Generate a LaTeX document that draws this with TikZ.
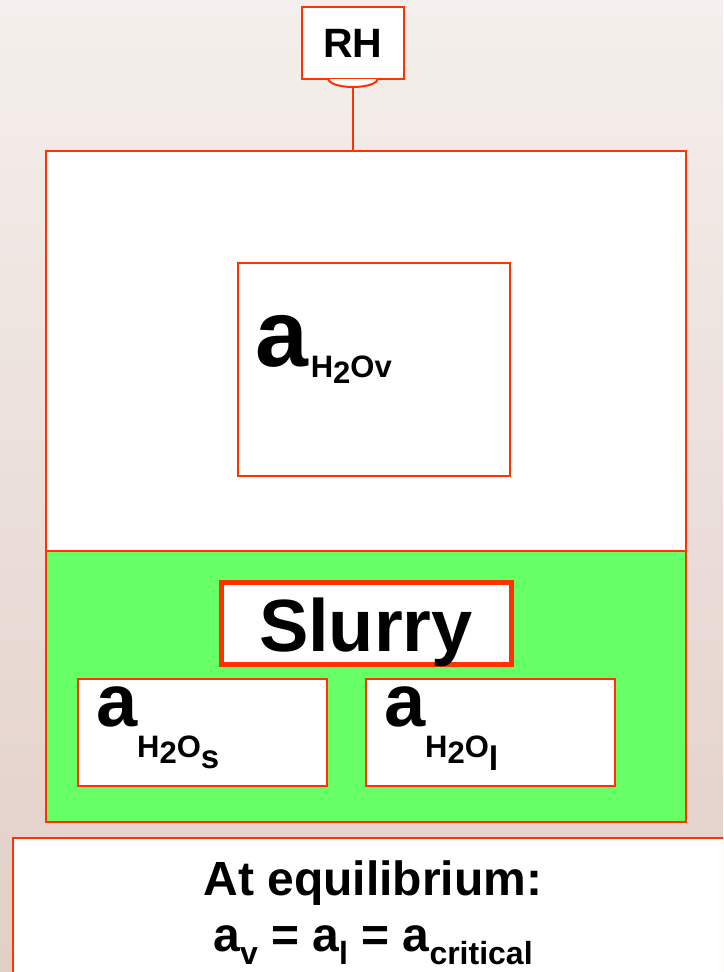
\documentclass[tikz,border=0pt]{standalone}
\usepackage{fontspec}
\setmainfont{Liberation Sans}
\definecolor{edge}{RGB}{255,51,0}
\definecolor{slurrygreen}{RGB}{102,255,102}
\definecolor{bgtop}{RGB}{244,239,236}
\definecolor{bgbot}{RGB}{226,207,199}
\newcommand\myfs[1]{\fontsize{#1}{#1}\selectfont\bfseries}
\begin{document}
\begin{tikzpicture}[x=1pt,y=-1pt,
  box/.style={draw=edge,line width=2pt,fill=white,rectangle,inner sep=0pt,outer sep=0pt},
  lbl/.style={inner sep=0pt,outer sep=0pt,text=black}]
\useasboundingbox (0,0) rectangle (723,972);
\clip (0,0) rectangle (723,972);
\shade[top color=bgtop,bottom color=bgbot] (0,0) rectangle (723,972);

% main container
\node[box,fill=slurrygreen,minimum width=640pt,minimum height=271pt] (slurzone) at (366,686.5) {};
\node[box,minimum width=640pt,minimum height=400pt] (vapzone) at (366,351) {};

% RH sensor
\node[box,minimum width=102pt,minimum height=72pt] (rh) at (353,43) {\myfs{41}RH};
\draw[edge,line width=2pt,fill=white] ([xshift=-24.5pt]rh.south) arc[start angle=180,end angle=360,x radius=24.5pt,y radius=8pt];
\coordinate (rhjoint) at ([yshift=-8pt]rh.south);
\draw[edge,line width=2pt] (rhjoint) -- (rhjoint |- vapzone.north);

% vapour activity
\node[box,minimum width=272pt,minimum height=213pt] (vapbox) at (374,369.5) {};
\node[lbl,anchor=base west] (vaplbl) at (255,366) {\myfs{95}a\kern3pt\raisebox{-11pt}{\myfs{31}H\raisebox{-6pt}{2}Ov}};

% slurry
\node[box,line width=5pt,minimum width=290pt,minimum height=82pt] (slurbox) at (366,623) {};
\node[lbl,anchor=base west] (slurlbl) at ([xshift=-107pt,yshift=-28pt]slurbox.center) {\myfs{74}Slurry};

\node[box,minimum width=249pt,minimum height=107pt] (sbox) at (202.5,732.5) {};
\node[lbl,anchor=base west] (slbl) at (96,726) {\myfs{74}a\raisebox{-31pt}{\myfs{31}H\raisebox{-6pt}{2}O\raisebox{-11pt}{\myfs{33}s}}};

\node[box,minimum width=249pt,minimum height=107pt] (lbox) at (490.5,732.5) {};
\node[lbl,anchor=base west] (llbl) at (384,726) {\myfs{74}a\raisebox{-31pt}{\myfs{31}H\raisebox{-6pt}{2}O\raisebox{-13pt}{\myfs{34}l}}};

% equilibrium box
\node[box,minimum width=720pt,minimum height=150pt,anchor=north west] (eqbox) at (13,838) {};
\node[lbl,anchor=base] (eqtitle) at (373,895) {\myfs{48}At equilibrium:};
\node[lbl,anchor=base] (eqline) at (373,951) {\myfs{48}a\raisebox{-13pt}{\myfs{32}v} = a\raisebox{-13pt}{\myfs{32}l} = a\raisebox{-13pt}{\myfs{32}critical}};
\end{tikzpicture}
\end{document}
